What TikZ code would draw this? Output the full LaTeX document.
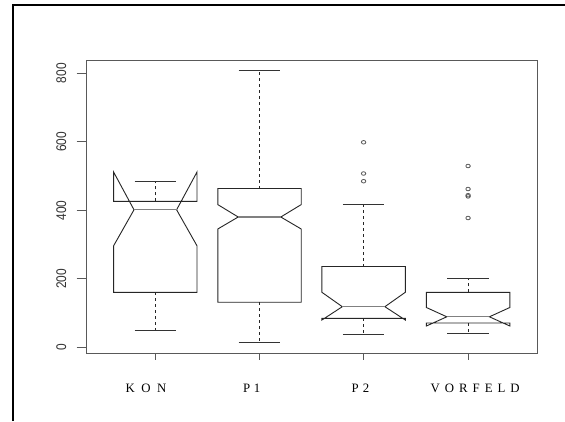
\documentclass[tikz,border=0pt]{standalone}
\usepackage{fontspec}
\setmainfont{Liberation Serif}
\newfontfamily\axisfont{Liberation Sans}
\tikzset{
  boxline/.style={draw=black!85, line width=0.9pt, line join=miter},
  medline/.style={draw=black!50, line width=1.2pt},
  whisk/.style={draw=black!85, line width=0.9pt, dash pattern=on 3pt off 3pt},
  capline/.style={draw=black!80, line width=0.9pt},
  outl/.style={draw=black!65, line width=0.8pt},
  frameline/.style={draw=black!65, line width=1pt},
  ticklbl/.style={inner sep=0pt, rotate=90, text=black!80, font=\axisfont\fontsize{14}{14}\selectfont},
  catlbl/.style={inner sep=0pt, anchor=base west, font=\fontsize{12.8}{12.8}\selectfont}
}
% #1 cx, #2 q1, #3 notch low, #4 median, #5 notch high, #6 q3, #7 lower whisker, #8 upper whisker
\newcommand{\nbox}[8]{%
  \draw[boxline] (#1-41.7,#2) -- (#1-41.7,#3) -- (#1-21.3,#4) -- (#1-41.7,#5) -- (#1-41.7,#6)
     -- (#1+41.7,#6) -- (#1+41.7,#5) -- (#1+21.3,#4) -- (#1+41.7,#3) -- (#1+41.7,#2) -- cycle;
  \draw[medline] (#1-21.3,#4) -- (#1+21.3,#4);
  \draw[whisk] (#1,#6) -- (#1,#8);
  \draw[whisk] (#1,#2) -- (#1,#7);
  \draw[capline] (#1-20.8,#8) -- (#1+20.8,#8);
  \draw[capline] (#1-20.8,#7) -- (#1+20.8,#7);
  \draw[frameline] (#1,353) -- (#1,360);
}
\begin{document}
\begin{tikzpicture}[x=1pt,y=-1pt]
\useasboundingbox (0,0) rectangle (565,421);
\fill[white] (0,0) rectangle (565,421);
% outer frame
\draw[black, line width=2pt] (12.7,421) -- (12.7,4.7) -- (565,4.7);
% plot frame
\draw[frameline] (86,60) rectangle (537.7,353);
% y ticks and labels
\foreach \v/\t in {0/0,200/200,400/400,600/600,800/800}{
  \draw[frameline] (76.5,{347.3-0.3425*\v}) -- (86,{347.3-0.3425*\v});
  \node[ticklbl] at (61.3,{347.3-0.3425*\v}) {\scalebox{0.85}[1]{\t}};
}
% boxes
\nbox{155.3}{292.3}{245.8}{209.8}{172}{201.3}{330.3}{181.5}
\nbox{259.5}{302.2}{229}{217}{204.6}{188.5}{342.3}{70.7}
\nbox{363.6}{318.3}{320}{306.7}{292.3}{266.5}{334.5}{204.3}
\nbox{468.1}{323}{326}{316.8}{307.5}{292.3}{333.2}{278}
% outliers
\foreach \y in {142.3,173.5,181.2}{\draw[outl] (363.6,\y) ellipse (2.2 and 1.8);}
\foreach \y in {166,189,195.2,196.4,218}{\draw[outl] (468.1,\y) ellipse (2.2 and 1.8);}
% category labels
\node[catlbl] (kon) at (125.5,392) {K\hspace{6.5pt}O\hspace{6.5pt}N};
\node[catlbl] (p1) at (243,392) {P\hspace{3.5pt}1};
\node[catlbl] (p2) at (351.5,392) {P\hspace{4pt}2};
\node[catlbl] (vf) at (430.5,392) {V\hspace{5pt}O\hspace{5pt}R\hspace{5pt}F\hspace{5pt}E\hspace{5pt}L\hspace{5pt}D};
\end{tikzpicture}
\end{document}
